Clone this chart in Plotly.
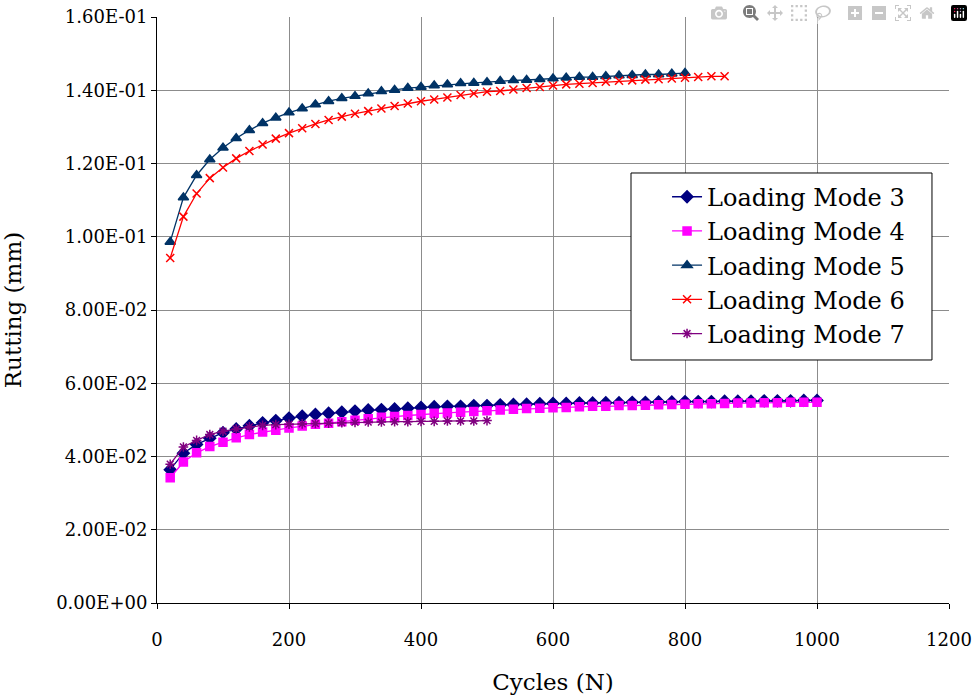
import plotly.graph_objects as go

cycles_3_4 = list(range(20, 1001, 20))
cycles_5 = list(range(20, 801, 20))
cycles_6 = list(range(20, 861, 20))
cycles_7 = list(range(20, 501, 20))

mode3 = [0.0364, 0.0409, 0.0433, 0.0450, 0.0465, 0.0475, 0.0484, 0.0492, 0.0498, 0.0505,
         0.0510, 0.0515, 0.0518, 0.0521, 0.0524, 0.0527, 0.0528, 0.0530, 0.0532, 0.0534,
         0.0536, 0.0537, 0.0537, 0.0539, 0.0539, 0.0541,
         0.0542, 0.0543, 0.0544, 0.0545, 0.0545, 0.0546, 0.0546, 0.0547, 0.0547, 0.0548,
         0.0548, 0.0549, 0.0549, 0.0550, 0.0550, 0.0550, 0.0551, 0.0551, 0.0551, 0.0552,
         0.0552, 0.0552, 0.0553, 0.0553]
mode4 = [0.0342, 0.0385, 0.0410, 0.0427, 0.0439, 0.0451, 0.0460, 0.0467, 0.0472, 0.0478,
         0.0483, 0.0488, 0.0491, 0.0495, 0.0499, 0.0503, 0.0507, 0.0509, 0.0512, 0.0515,
         0.0518, 0.0519, 0.0521, 0.0523, 0.0525, 0.0527,
         0.0529, 0.0531, 0.0532, 0.0533, 0.0534, 0.0536, 0.0537, 0.0537, 0.0539, 0.0539,
         0.0540, 0.0541, 0.0542, 0.0543, 0.0544, 0.0544, 0.0545, 0.0546, 0.0546, 0.0547,
         0.0547, 0.0548, 0.0548, 0.0548]
mode5 = [0.0986, 0.1107, 0.1168, 0.1211, 0.1243, 0.1269, 0.1291, 0.1310, 0.1325, 0.1339,
         0.1350, 0.1361, 0.1370, 0.1378, 0.1384, 0.1391, 0.1397, 0.1401, 0.1406, 0.1409,
         0.1413,
         0.1416, 0.1419, 0.1420, 0.1422, 0.1425, 0.1427, 0.1428, 0.1430, 0.1432, 0.1434,
         0.1436, 0.1436, 0.1438, 0.1440, 0.1441, 0.1443, 0.1443, 0.1445, 0.1447]
mode6 = [0.0942, 0.1055, 0.1118, 0.1160, 0.1189, 0.1214, 0.1234, 0.1252, 0.1268, 0.1283,
         0.1296, 0.1308, 0.1319, 0.1328, 0.1336, 0.1343, 0.1350, 0.1357, 0.1364, 0.1370,
         0.1375,
         0.1380, 0.1387, 0.1391, 0.1396, 0.1398, 0.1402, 0.1406, 0.1409, 0.1413, 0.1416,
         0.1418, 0.1420, 0.1423, 0.1426, 0.1427, 0.1429, 0.1430, 0.1432, 0.1434, 0.1436,
         0.1438, 0.1438]
mode7 = [0.0379, 0.0426, 0.0444, 0.0460, 0.0469, 0.0475, 0.0481, 0.0485, 0.0487, 0.0488,
         0.0489, 0.0490, 0.0491, 0.0492, 0.0493, 0.0494, 0.0494, 0.0495, 0.0495, 0.0496,
         0.0496, 0.0497, 0.0497, 0.0497, 0.0498]

y_tickvals = [0, 0.02, 0.04, 0.06, 0.08, 0.10, 0.12, 0.14, 0.16]
y_ticktext = ["0.00E+00", "2.00E-02", "4.00E-02", "6.00E-02", "8.00E-02",
              "1.00E-01", "1.20E-01", "1.40E-01", "1.60E-01"]
x_tickvals = [0, 200, 400, 600, 800, 1000, 1200]

series = [
    ("Loading Mode 3", cycles_3_4, mode3, "#000080", "diamond", 9),
    ("Loading Mode 4", cycles_3_4, mode4, "#FF00FF", "square", 8),
    ("Loading Mode 5", cycles_5, mode5, "#003366", "triangle-up", 9),
    ("Loading Mode 6", cycles_6, mode6, "#FF0000", "x-thin-open", 8),
    ("Loading Mode 7", cycles_7, mode7, "#800080", "asterisk-open", 8),
]

FONT = "DejaVu Serif"
fig = go.Figure()
for name, xs, ys, color, sym, size in series:
    fig.add_trace(go.Scatter(
        x=xs, y=ys, name=name, mode="lines+markers",
        line=dict(color=color, width=1.3),
        marker=dict(symbol=sym, size=size, color=color,
                    line=dict(color=color, width=1.5)),
    ))

# legend frame
fig.add_shape(type="rect", xref="paper", yref="paper",
              x0=0.5985, x1=0.9785, y0=0.4147, y1=0.7338,
              line=dict(color="black", width=1), fillcolor="white", layer="above")

fig.update_layout(
    width=973, height=696,
    margin=dict(l=157, r=24, t=17, b=93),
    paper_bgcolor="white", plot_bgcolor="white",
    font=dict(family=FONT, size=19, color="black"),
    showlegend=True,
    legend=dict(x=0.644, y=0.731, xanchor="left", yanchor="top",
                bgcolor="rgba(0,0,0,0)", borderwidth=0,
                font=dict(family=FONT, size=24, color="black"),
                tracegroupgap=0, itemwidth=30),
)
fig.update_xaxes(
    range=[0, 1200], tickvals=x_tickvals, showgrid=True, gridcolor="#8c8c8c", gridwidth=1,
    showline=True, linecolor="black", linewidth=1, ticks="outside", ticklen=5,
    tickcolor="black", zeroline=False, automargin=False, ticklabeloverflow="allow",
    tickfont=dict(size=18),
    title=dict(text="Cycles (N)", standoff=25), ticklabelstandoff=15,
)
fig.update_yaxes(
    range=[0, 0.16], tickvals=y_tickvals, ticktext=y_ticktext, showgrid=True,
    gridcolor="#8c8c8c", gridwidth=1, showline=True, linecolor="black", linewidth=1,
    ticks="outside", ticklen=5, tickcolor="black", zeroline=False, automargin=False,
    ticklabeloverflow="allow", tickfont=dict(size=18),
    title=dict(text="Rutting (mm)", standoff=33),
)
fig.write_html("out.html", post_script="document.body.style.margin='0px';")
